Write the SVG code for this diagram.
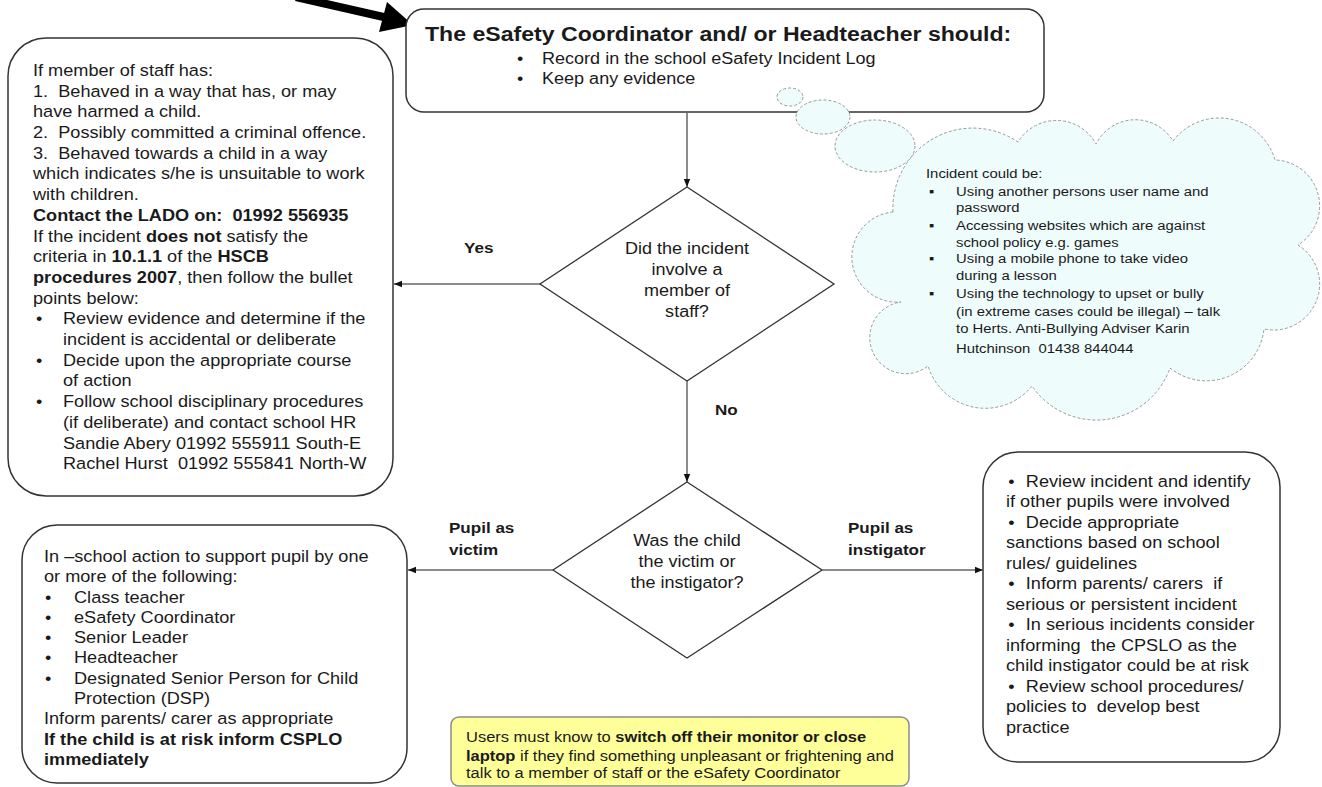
<svg xmlns="http://www.w3.org/2000/svg" width="1322" height="787" viewBox="0 0 1322 787">
<defs>
<style>
.box{fill:#fff;stroke:#333;stroke-width:1.5}
.dia{fill:#fff;stroke:#333;stroke-width:1.3}
.t{font-family:"Liberation Sans",Arial,sans-serif;fill:#1a1a1a}
.b{font-weight:bold}
.cloud{fill:#effcfc;stroke:#999;stroke-width:1;stroke-dasharray:3 2}
.conn{stroke:#666;stroke-width:1.5;fill:none;marker-end:url(#ah)}
.note{fill:#ffff99;stroke:#8c8c8c;stroke-width:1.5}
</style>
<marker id="ah" viewBox="0 0 10 10" refX="10" refY="5" markerWidth="9" markerHeight="8" orient="auto" markerUnits="userSpaceOnUse">
<path d="M0,1 L10,5 L0,9 z" fill="#111"/>
</marker>
</defs>
<rect width="1322" height="787" fill="#fff"/>

<g id="pointer-arrow">
<line x1="296" y1="-3" x2="388" y2="18" stroke="#000" stroke-width="8"/>
<polygon points="413,25 379,32 387,2" fill="#000"/>
</g>

<g id="top-box">
<rect class="box" x="406" y="9" width="638" height="103" rx="18"/>
<g transform="translate(425 0) scale(1.1 1)">
<text class="t b" x="0" y="41" font-size="21">The eSafety Coordinator and/ or Headteacher should:</text>
<text class="t" x="83.6" y="64" font-size="16.4">•</text>
<text class="t" x="106.4" y="64" font-size="16.4">Record in the school eSafety Incident Log</text>
<text class="t" x="83.6" y="84" font-size="16.4">•</text>
<text class="t" x="106.4" y="84" font-size="16.4">Keep any evidence</text>
</g>
</g>

<g id="cloud">
<path class="cloud" d="M893,212 A80,80 0 0 1 1018,142 A45,45 0 0 1 1096,144 A44,44 0 0 1 1173,141 A58,58 0 0 1 1275,160 A46,46 0 0 1 1298,245 A46,46 0 0 1 1264,329 A58,58 0 0 1 1170,368 A78,78 0 0 1 1032,386 A60,60 0 0 1 928,366 A36,36 0 1 1 901,302 A43.4,43.4 0 0 1 893,212 Z"/>
<ellipse class="cloud" cx="790" cy="97" rx="13" ry="9"/>
<ellipse class="cloud" cx="823" cy="117" rx="27" ry="17"/>
<ellipse class="cloud" cx="875" cy="146" rx="40" ry="26"/>
<g transform="translate(926 0) scale(1.1 1)" font-size="13.5">
<text class="t" x="0" y="178">Incident could be:</text>
<text class="t" x="2.7" y="196">▪</text>
<text class="t" x="27.3" y="196">Using another persons user name and</text>
<text class="t" x="27.3" y="212">password</text>
<text class="t" x="2.7" y="230">▪</text>
<text class="t" x="27.3" y="230">Accessing websites which are against</text>
<text class="t" x="27.3" y="247">school policy e.g. games</text>
<text class="t" x="2.7" y="263">▪</text>
<text class="t" x="27.3" y="263">Using a mobile phone to take video</text>
<text class="t" x="27.3" y="280">during a lesson</text>
<text class="t" x="2.7" y="298">▪</text>
<text class="t" x="27.3" y="298">Using the technology to upset or bully</text>
<text class="t" x="27.3" y="316">(in extreme cases could be illegal) – talk</text>
<text class="t" x="27.3" y="333">to Herts. Anti-Bullying Adviser Karin</text>
<text class="t" x="27.3" y="353">Hutchinson&#160; 01438 844044</text>
</g>
</g>

<g id="staff-box">
<rect class="box" x="8" y="38" width="385" height="458" rx="38"/>
<g transform="translate(33 0) scale(1.1 1)" font-size="16.5">
<text class="t" x="0" y="76">If member of staff has:</text>
<text class="t" x="0" y="96.7">1.&#160; Behaved in a way that has, or may</text>
<text class="t" x="0" y="117.4">have harmed a child.</text>
<text class="t" x="0" y="138.1">2.&#160; Possibly committed a criminal offence.</text>
<text class="t" x="0" y="158.8">3.&#160; Behaved towards a child in a way</text>
<text class="t" x="0" y="179.5">which indicates s/he is unsuitable to work</text>
<text class="t" x="0" y="200.2">with children.</text>
<text class="t b" x="0" y="220.9">Contact the LADO on:&#160; 01992 556935</text>
<text class="t" x="0" y="241.6">If the incident <tspan class="b">does not</tspan> satisfy the</text>
<text class="t" x="0" y="262.3">criteria in <tspan class="b">10.1.1</tspan> of the <tspan class="b">HSCB</tspan></text>
<text class="t" x="0" y="283"><tspan class="b">procedures 2007</tspan>, then follow the bullet</text>
<text class="t" x="0" y="303.7">points below:</text>
<text class="t" x="2.7" y="324.4">•</text>
<text class="t" x="27.3" y="324.4">Review evidence and determine if the</text>
<text class="t" x="27.3" y="345.1">incident is accidental or deliberate</text>
<text class="t" x="2.7" y="365.8">•</text>
<text class="t" x="27.3" y="365.8">Decide upon the appropriate course</text>
<text class="t" x="27.3" y="386.5">of action</text>
<text class="t" x="2.7" y="407.2">•</text>
<text class="t" x="27.3" y="407.2">Follow school disciplinary procedures</text>
<text class="t" x="27.3" y="427.9">(if deliberate) and contact school HR</text>
<text class="t" x="27.3" y="448.6">Sandie Abery 01992 555911 South-E</text>
<text class="t" x="27.3" y="469.3">Rachel Hurst&#160; 01992 555841 North-W</text>
</g>
</g>

<g id="decision-staff">
<polygon class="dia" points="687,187 834,284 687,381 540,284"/>
<g transform="translate(687 0) scale(1.1 1)" font-size="16.4" text-anchor="middle">
<text class="t" x="0" y="254">Did the incident</text>
<text class="t" x="0" y="275">involve a</text>
<text class="t" x="0" y="296">member of</text>
<text class="t" x="0" y="317">staff?</text>
</g>
</g>

<g id="decision-pupil">
<polygon class="dia" points="687,482 822,570 687,658 553,570"/>
<g transform="translate(687 0) scale(1.1 1)" font-size="16.4" text-anchor="middle">
<text class="t" x="0" y="546">Was the child</text>
<text class="t" x="0" y="567">the victim or</text>
<text class="t" x="0" y="588">the instigator?</text>
</g>
</g>

<g id="victim-box">
<rect class="box" x="22" y="525" width="385" height="258" rx="35"/>
<g transform="translate(44 0) scale(1.1 1)" font-size="16.5">
<text class="t" x="0" y="562">In –school action to support pupil by one</text>
<text class="t" x="0" y="582.3">or more of the following:</text>
<text class="t" x="1" y="602.6">•</text>
<text class="t" x="27.3" y="602.6">Class teacher</text>
<text class="t" x="1" y="622.9">•</text>
<text class="t" x="27.3" y="622.9">eSafety Coordinator</text>
<text class="t" x="1" y="643.2">•</text>
<text class="t" x="27.3" y="643.2">Senior Leader</text>
<text class="t" x="1" y="663.5">•</text>
<text class="t" x="27.3" y="663.5">Headteacher</text>
<text class="t" x="1" y="683.8">•</text>
<text class="t" x="27.3" y="683.8">Designated Senior Person for Child</text>
<text class="t" x="27.3" y="704.1">Protection (DSP)</text>
<text class="t" x="0" y="724.4">Inform parents/ carer as appropriate</text>
<text class="t b" x="0" y="744.7">If the child is at risk inform CSPLO</text>
<text class="t b" x="0" y="765">immediately</text>
</g>
</g>

<g id="instigator-box">
<rect class="box" x="983" y="452" width="297" height="310" rx="35"/>
<g transform="translate(1006 0) scale(1.1 1)" font-size="16.5">
<text class="t" x="2" y="487">•</text>
<text class="t" x="18" y="487">Review incident and identify</text>
<text class="t" x="0" y="507.5">if other pupils were involved</text>
<text class="t" x="2" y="528">•</text>
<text class="t" x="18" y="528">Decide appropriate</text>
<text class="t" x="0" y="548.5">sanctions based on school</text>
<text class="t" x="0" y="569">rules/ guidelines</text>
<text class="t" x="2" y="589.5">•</text>
<text class="t" x="18" y="589.5">Inform parents/ carers&#160; if</text>
<text class="t" x="0" y="610">serious or persistent incident</text>
<text class="t" x="2" y="630.5">•</text>
<text class="t" x="18" y="630.5">In serious incidents consider</text>
<text class="t" x="0" y="651">informing&#160; the CPSLO as the</text>
<text class="t" x="0" y="671.5">child instigator could be at risk</text>
<text class="t" x="2" y="692">•</text>
<text class="t" x="18" y="692">Review school procedures/</text>
<text class="t" x="0" y="712.5">policies to&#160; develop best</text>
<text class="t" x="0" y="733">practice</text>
</g>
</g>

<g id="note">
<rect class="note" x="451" y="717" width="458" height="69" rx="8"/>
<g transform="translate(466 0) scale(1.1 1)" font-size="15">
<text class="t" x="0" y="742">Users must know to <tspan class="b">switch off their monitor or close</tspan></text>
<text class="t" x="0" y="761"><tspan class="b">laptop</tspan> if they find something unpleasant or frightening and</text>
<text class="t" x="0" y="778">talk to a member of staff or the eSafety Coordinator</text>
</g>
</g>

<g id="connectors">
<line class="conn" x1="687" y1="112" x2="687" y2="187"/>
<line class="conn" x1="540" y1="284" x2="394" y2="284"/>
<line class="conn" x1="687" y1="381" x2="687" y2="482"/>
<line class="conn" x1="553" y1="570" x2="408" y2="570"/>
<line class="conn" x1="822" y1="570" x2="983" y2="570"/>
<g font-size="15.5">
<text class="t b" transform="translate(464 0) scale(1.1 1)" x="0" y="253">Yes</text>
<text class="t b" transform="translate(715 0) scale(1.1 1)" x="0" y="415">No</text>
<text class="t b" transform="translate(449 0) scale(1.1 1)" x="0" y="533">Pupil as</text>
<text class="t b" transform="translate(449 0) scale(1.1 1)" x="0" y="555">victim</text>
<text class="t b" transform="translate(848 0) scale(1.1 1)" x="0" y="533">Pupil as</text>
<text class="t b" transform="translate(848 0) scale(1.1 1)" x="0" y="555">instigator</text>
</g>
</g>
</svg>
